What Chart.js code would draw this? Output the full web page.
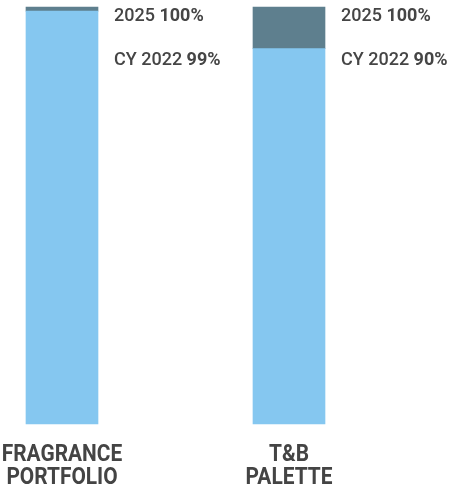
<!DOCTYPE html>
<html>
<head>
<meta charset="utf-8">
<script src="https://cdn.jsdelivr.net/npm/chart.js@4"></script>
<style>
  html, body { margin: 0; padding: 0; background: #fff; }
  #wrap { width: 463px; height: 485px; }
</style>
</head>
<body>
<div id="wrap"><canvas id="grafica"></canvas></div>
<script>
// data
const categorias = [["FRAGRANCE", "PORTFOLIO"], ["T&B", "PALETTE"]];
const cy2022 = [99, 90];
const meta2025 = [100, 100];

const gap = meta2025.map((v, i) => v - cy2022[i]);

// etiquetas a la derecha de cada barra + nombres abajo
const etiquetas = {
  id: 'etiquetas',
  afterDatasetsDraw(chart) {
    const ctx = chart.ctx;
    const top = chart.scales.y.getPixelForValue(100);
    const bottom = chart.scales.y.getPixelForValue(0);
    const barras = chart.getDatasetMeta(0).data;
    ctx.save();
    ctx.fillStyle = '#454545';
    ctx.textBaseline = 'middle';
    ctx.textAlign = 'left';
    barras.forEach((bar, i) => {
      const x = bar.x + bar.width / 2 + 16;
      const filas = [
        ['2025 ', meta2025[i] + '%', top + 9],
        ['CY 2022 ', cy2022[i] + '%', top + 53]
      ];
      filas.forEach(f => {
        ctx.font = '500 18px Roboto';
        ctx.fillText(f[0], x, f[2]);
        const w = ctx.measureText(f[0]).width;
        ctx.font = 'bold 18px Roboto';
        ctx.fillText(f[1], x + w, f[2]);
      });
    });

    // categorias (letra condensada)
    ctx.fillStyle = '#444';
    ctx.textBaseline = 'alphabetic';
    ctx.textAlign = 'center';
    ctx.font = 'bold 24px Roboto';
    categorias.forEach((lineas, i) => {
      const cx = chart.scales.x.getPixelForValue(i);
      lineas.forEach((t, j) => {
        ctx.save();
        ctx.translate(cx, bottom + 37 + j * 23);
        ctx.scale(0.87, 1);
        ctx.fillText(t, 0, 0);
        ctx.restore();
      });
    });
    ctx.restore();
  }
};

const grafica = document.getElementById('grafica');
var chart = new Chart(grafica, {
  type: 'bar',
  data: {
    labels: categorias,
    datasets: [
      {
        label: 'CY 2022',
        backgroundColor: '#85C7F0',
        data: cy2022,
        barThickness: 72,
        clip: false
      },
      {
        label: '2025',
        backgroundColor: '#5E7F8E',
        data: gap,
        barThickness: 72,
        clip: false
      }
    ]
  },
  options: {
    responsive: true,
    maintainAspectRatio: false,
    animation: false,
    layout: { padding: { left: 62, right: 174, top: 7, bottom: 61 } },
    plugins: {
      legend: { display: false },
      tooltip: { enabled: false }
    },
    scales: {
      x: {
        stacked: true,
        offset: false,
        display: false
      },
      y: {
        stacked: true,
        display: false,
        min: 0,
        max: 100
      }
    }
  },
  plugins: [etiquetas]
});
</script>
</body>
</html>
